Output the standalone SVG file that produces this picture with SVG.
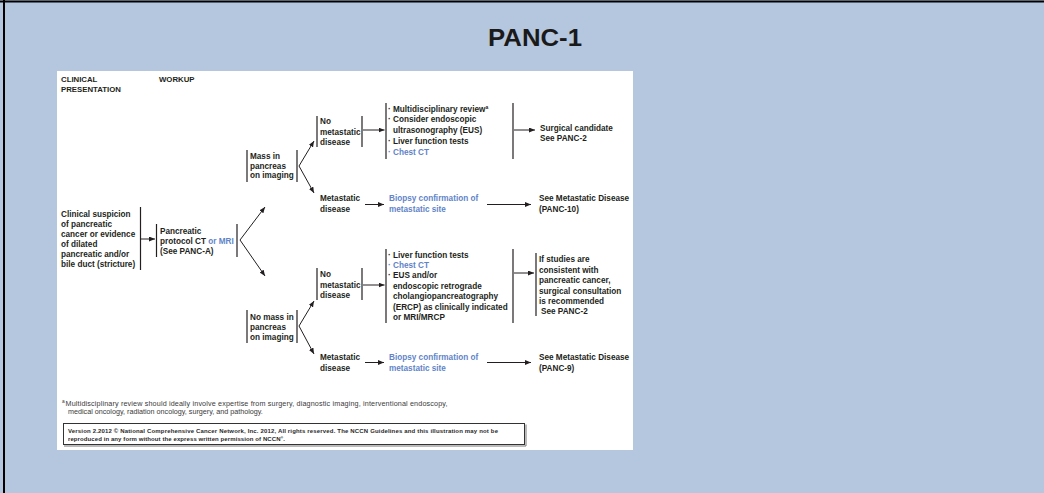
<svg xmlns="http://www.w3.org/2000/svg" width="1044" height="493" viewBox="0 0 1044 493">
<style>
.t{font-family:"Liberation Sans",Arial,sans-serif;font-size:8.2px;font-weight:bold;fill:#231f20}
.bl{fill:#5f84c9}
.bar{stroke:#231f20;stroke-width:1.2;fill:none}
.c{stroke:#231f20;stroke-width:1;fill:none;marker-end:url(#ah)}
.fn{font-family:"Liberation Sans",Arial,sans-serif;font-size:7.2px;fill:#3a3a3a}
.vs{font-family:"Liberation Sans",Arial,sans-serif;font-size:6px;font-weight:bold;fill:#2a2a2a}
</style>
<defs>
<marker id="ah" markerUnits="userSpaceOnUse" markerWidth="6" markerHeight="5" refX="6" refY="2.5" orient="auto">
<path d="M0,0 L6,2.5 L0,5 z" fill="#231f20"/>
</marker>
</defs>
<rect width="1044" height="493" fill="#b5c7df"/>
<line x1="0" y1="1.5" x2="1044" y2="1.5" stroke="#000" stroke-width="2"/>
<line x1="4" y1="0" x2="4" y2="493" stroke="#000" stroke-width="2"/>
<text x="535" y="46" text-anchor="middle" font-family="Liberation Sans,Arial,sans-serif" font-size="24" font-weight="bold" fill="#1a1a1a" textLength="94" lengthAdjust="spacingAndGlyphs">PANC-1</text>
<rect x="57" y="71" width="576" height="379" fill="#fff"/>

<g id="headers">
<text class="t" x="61" y="82" style="font-size:7.8px">CLINICAL</text>
<text class="t" x="61" y="91.5" style="font-size:7.8px">PRESENTATION</text>
<text class="t" x="159" y="82" style="font-size:7.8px">WORKUP</text>
</g>

<g id="n-clinical">
<text class="t" x="61" y="217">Clinical suspicion</text>
<text class="t" x="61" y="227">of pancreatic</text>
<text class="t" x="61" y="237">cancer or evidence</text>
<text class="t" x="61" y="247">of dilated</text>
<text class="t" x="61" y="257">pancreatic and/or</text>
<text class="t" x="61" y="267">bile duct (stricture)</text>
<line class="bar" x1="140.5" y1="207" x2="140.5" y2="270"/>
</g>

<g id="n-workup">
<line class="bar" x1="156.5" y1="224" x2="156.5" y2="257"/>
<text class="t" x="160" y="234">Pancreatic</text>
<text class="t" x="160" y="244">protocol CT <tspan class="bl">or MRI</tspan></text>
<text class="t" x="160" y="254">(See PANC-A)</text>
<line class="bar" x1="237" y1="224" x2="237" y2="257"/>
</g>

<g id="n-mass">
<line class="bar" x1="247" y1="150" x2="247" y2="182"/>
<text class="t" x="250" y="159">Mass in</text>
<text class="t" x="250" y="168.5">pancreas</text>
<text class="t" x="250" y="178">on imaging</text>
<line class="bar" x1="297" y1="150" x2="297" y2="182"/>
</g>

<g id="n-nomet1">
<line class="bar" x1="317" y1="116" x2="317" y2="147"/>
<text class="t" x="320" y="124">No</text>
<text class="t" x="320" y="134.5">metastatic</text>
<text class="t" x="320" y="145">disease</text>
<line class="bar" x1="362" y1="116" x2="362" y2="147"/>
</g>

<g id="n-workup1">
<line class="bar" x1="386" y1="103" x2="386" y2="159"/>
<text class="t" x="388" y="111.5">· Multidisciplinary review<tspan dy="-3" style="font-size:5px">a</tspan></text>
<text class="t" x="388" y="122">· Consider endoscopic</text>
<text class="t" x="393" y="132.5">ultrasonography (EUS)</text>
<text class="t" x="388" y="144">· Liver function tests</text>
<text class="t bl" x="388" y="155">· Chest CT</text>
<line class="bar" x1="513" y1="103" x2="513" y2="159"/>
</g>

<g id="n-surgical">
<text class="t" x="540" y="130.5">Surgical candidate</text>
<text class="t" x="540" y="141">See PANC-2</text>
</g>

<g id="n-met1">
<text class="t" x="320" y="201">Metastatic</text>
<text class="t" x="320" y="212">disease</text>
</g>
<g id="n-biopsy1">
<text class="t bl" x="389" y="201">Biopsy confirmation of</text>
<text class="t bl" x="389" y="212">metastatic site</text>
</g>
<g id="n-see10">
<text class="t" x="539" y="201">See Metastatic Disease</text>
<text class="t" x="539" y="212">(PANC-10)</text>
</g>

<g id="n-nomass">
<line class="bar" x1="247" y1="310" x2="247" y2="343"/>
<text class="t" x="250" y="320">No mass in</text>
<text class="t" x="250" y="330">pancreas</text>
<text class="t" x="250" y="339.5">on imaging</text>
<line class="bar" x1="297" y1="310" x2="297" y2="343"/>
</g>

<g id="n-nomet2">
<line class="bar" x1="317" y1="268" x2="317" y2="300"/>
<text class="t" x="320" y="277">No</text>
<text class="t" x="320" y="287.5">metastatic</text>
<text class="t" x="320" y="298">disease</text>
<line class="bar" x1="362" y1="268" x2="362" y2="300"/>
</g>

<g id="n-workup2">
<line class="bar" x1="386" y1="249" x2="386" y2="323"/>
<text class="t" x="388" y="257.5">· Liver function tests</text>
<text class="t bl" x="388" y="267.5">· Chest CT</text>
<text class="t" x="388" y="278">· EUS and/or</text>
<text class="t" x="393" y="288.5">endoscopic retrograde</text>
<text class="t" x="393" y="299">cholangiopancreatography</text>
<text class="t" x="393" y="309.5">(ERCP) as clinically indicated</text>
<text class="t" x="393" y="320">or MRI/MRCP</text>
<line class="bar" x1="513" y1="249" x2="513" y2="323"/>
</g>

<g id="n-ifstudies">
<line class="bar" x1="536" y1="253" x2="536" y2="316"/>
<text class="t" x="539" y="262">If studies are</text>
<text class="t" x="539" y="272.5">consistent with</text>
<text class="t" x="539" y="283">pancreatic cancer,</text>
<text class="t" x="539" y="293.5">surgical consultation</text>
<text class="t" x="539" y="304">is recommended</text>
<text class="t" x="541" y="314">See PANC-2</text>
</g>

<g id="n-met2">
<text class="t" x="320" y="360">Metastatic</text>
<text class="t" x="320" y="371">disease</text>
</g>
<g id="n-biopsy2">
<text class="t bl" x="389" y="360">Biopsy confirmation of</text>
<text class="t bl" x="389" y="371">metastatic site</text>
</g>
<g id="n-see9">
<text class="t" x="539" y="360">See Metastatic Disease</text>
<text class="t" x="539" y="371">(PANC-9)</text>
</g>

<g id="connectors">
<line class="c" x1="141" y1="239" x2="155" y2="239"/>
<line class="c" x1="240" y1="240" x2="265" y2="207"/>
<line class="c" x1="240" y1="240" x2="265" y2="276"/>
<line class="c" x1="299" y1="166" x2="314" y2="141"/>
<line class="c" x1="299" y1="166" x2="314" y2="193"/>
<line class="c" x1="363" y1="130" x2="384.5" y2="130"/>
<line class="c" x1="514" y1="130" x2="535" y2="130"/>
<line class="c" x1="365" y1="204.5" x2="384" y2="204.5"/>
<line class="c" x1="487" y1="204.5" x2="531" y2="204.5"/>
<line class="c" x1="299" y1="326" x2="314" y2="301"/>
<line class="c" x1="299" y1="326" x2="314" y2="354"/>
<line class="c" x1="363" y1="285" x2="384.5" y2="285"/>
<line class="c" x1="514" y1="273" x2="534" y2="273"/>
<line class="c" x1="365" y1="362.5" x2="384" y2="362.5"/>
<line class="c" x1="487" y1="362.5" x2="531" y2="362.5"/>
</g>

<g id="footnote">
<text class="fn" x="62" y="403"><tspan style="font-size:4.8px">a</tspan></text>
<text class="fn" x="65.5" y="405.5" textLength="382">Multidisciplinary review should ideally involve expertise from surgery, diagnostic imaging, interventional endoscopy,</text>
<text class="fn" x="68" y="414">medical oncology, radiation oncology, surgery, and pathology.</text>
</g>

<g id="version">
<rect x="63.5" y="423.5" width="461" height="21" fill="#fff" stroke="#333" stroke-width="1"/>
<line x1="64" y1="446" x2="526" y2="446" stroke="#777" stroke-width="1"/>
<line x1="526" y1="424.5" x2="526" y2="446" stroke="#777" stroke-width="1"/>
<text class="vs" x="68" y="432.5" textLength="430">Version 2.2012 © National Comprehensive Cancer Network, Inc. 2012, All rights reserved. The NCCN Guidelines and this illustration may not be</text>
<text class="vs" x="68" y="440.5" textLength="217">reproduced in any form without the express written permission of NCCN<tspan dy="-2" style="font-size:3.6px">®</tspan><tspan dy="2">.</tspan></text>
</g>
</svg>
